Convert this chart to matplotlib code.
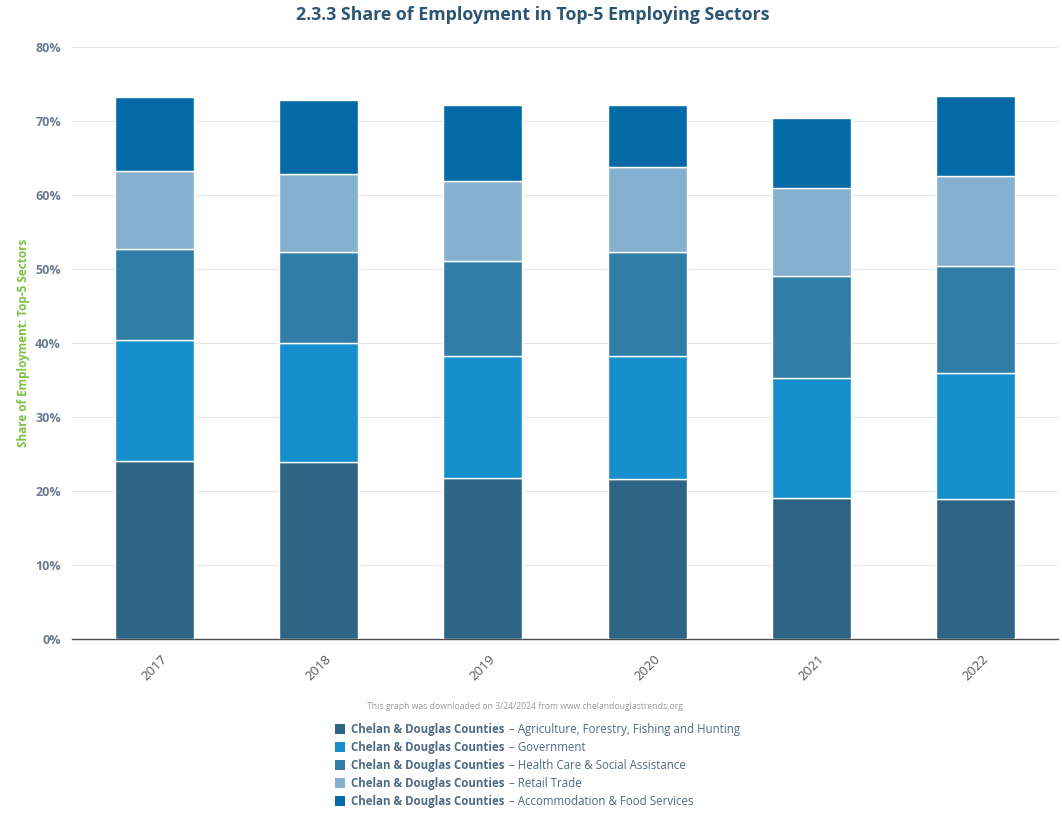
import matplotlib
matplotlib.use("Agg")
import matplotlib.pyplot as plt
from matplotlib.patches import Rectangle
import numpy as np

years = ["2017", "2018", "2019", "2020", "2021", "2022"]
region = "Chelan & Douglas Counties"
sectors = ["Agriculture, Forestry, Fishing and Hunting", "Government",
           "Health Care & Social Assistance", "Retail Trade",
           "Accommodation & Food Services"]
agriculture = [24.1, 23.9, 21.8, 21.6, 19.1, 18.9]
government = [16.3, 16.1, 16.5, 16.7, 16.2, 17.0]
health_care = [12.3, 12.3, 12.8, 14.0, 13.8, 14.5]
retail = [10.6, 10.6, 10.8, 11.5, 11.8, 12.2]
accommodation = [10.0, 9.9, 10.3, 8.3, 9.5, 10.8]
series = [agriculture, government, health_care, retail, accommodation]
colors = ["#2f6584", "#178fcc", "#307ea8", "#86b0cf", "#056ba8"]

plt.rcParams['font.family'] = ['Open Sans', 'DejaVu Sans']

fig = plt.figure(figsize=(10.62, 8.13), dpi=100)
ax = fig.add_axes([72/1062, 1-639/813, (1058-72)/1062, (639-47)/813])

x = np.arange(len(years))
bottom = np.zeros(len(years))
for vals, c in zip(series, colors):
    ax.bar(x, vals, width=0.48, bottom=bottom, color=c, edgecolor="white",
           linewidth=1, zorder=3)
    bottom += np.array(vals)

ax.set_xlim(-0.5, len(years) - 0.5)
ax.set_ylim(0, 80)
ax.set_yticks(np.arange(0, 81, 10))
ax.set_yticklabels([f"{v}%" for v in range(0, 81, 10)], fontsize=9,
                   fontweight="bold", color="#6b7a8f")
ax.set_xticks(x)
ax.set_xticklabels(years, rotation=45, fontsize=9.5, color="#555555")
ax.tick_params(axis="y", length=0, pad=8)
ax.tick_params(axis="x", length=0, pad=10)
ax.grid(axis="y", color="#e6e6e6", linewidth=0.8, zorder=0)
for s in ["top", "right", "left"]:
    ax.spines[s].set_visible(False)
ax.spines["bottom"].set_color("#4d4d4d")
ax.spines["bottom"].set_linewidth(1)

ax.set_ylabel("Share of Employment: Top-5 Sectors", color="#7dc142",
              fontsize=8.5, fontweight="bold", labelpad=4)

fig.text(533/1062, 1-15/813, "2.3.3 Share of Employment in Top-5 Employing Sectors",
         ha="center", va="center", fontsize=12.8, fontweight="bold", color="#2d5574")

fig.text(525/1062, 1-706/813,
         "This graph was downloaded on 3/24/2024 from www.chelandouglastrends.org",
         ha="center", va="center", fontsize=6.25, color="#9a9a9a")

renderer = fig.canvas.get_renderer()
for i, (sec, c) in enumerate(zip(sectors, colors)):
    yc = 729 + 18 * i
    fig.patches.append(Rectangle((335/1062, 1-(yc+5)/813), 10/1062, 10/813,
                                 transform=fig.transFigure, facecolor=c,
                                 edgecolor="none"))
    t1 = fig.text(351/1062, 1-yc/813, region, ha="left", va="center",
                  fontsize=8.3, fontweight="bold", color="#4e6a85")
    bb = t1.get_window_extent(renderer=renderer)
    fig.text(bb.x1/fig.dpi/fig.get_figwidth() + 0.001, 1-yc/813, " – " + sec,
             ha="left", va="center", fontsize=8.3, color="#4e6a85")

fig.savefig("out.png", dpi=100)
